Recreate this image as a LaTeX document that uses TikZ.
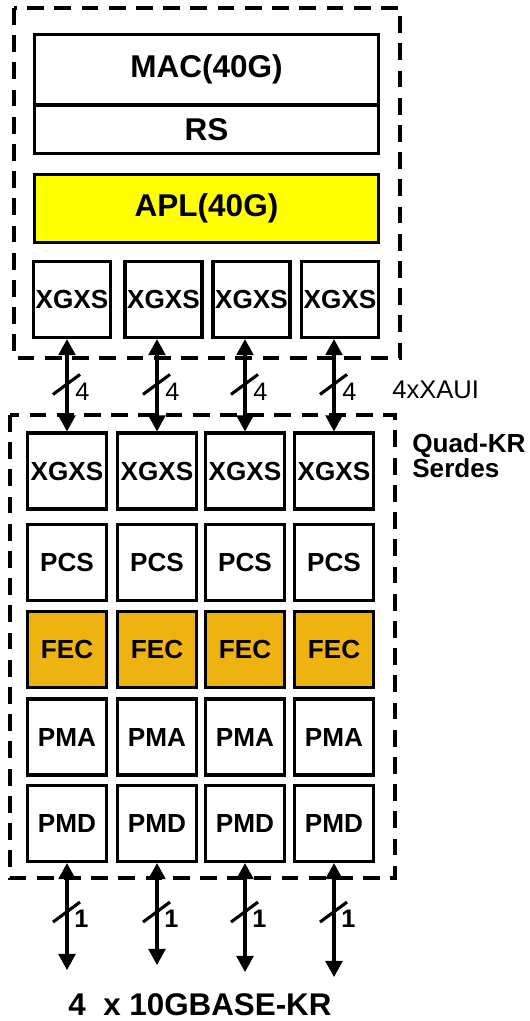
\documentclass[tikz,border=0pt]{standalone}
\usepackage{fontspec}
\setmainfont{Liberation Sans}
\usetikzlibrary{arrows.meta}
\definecolor{aplyellow}{HTML}{FFFF00}
\definecolor{fecgold}{HTML}{EEB211}

\begin{document}
\begin{tikzpicture}[
  x=0.025cm, y=-0.025cm,
  layer/.style={draw, line width=2.2pt, inner sep=0pt, minimum width=8.6cm, font=\fontsize{22.4}{26}\selectfont\bfseries},
  cell/.style={draw, line width=2.2pt, inner sep=0pt, minimum width=1.975cm, minimum height=1.9cm, font=\fontsize{18.6}{22}\selectfont\bfseries},
  grp/.style={draw, line width=2.2pt, dash pattern=on 0.42cm off 0.26cm},
  biarr/.style={{Triangle[width=12pt,length=11.5pt]}-{Triangle[width=12pt,length=11.5pt]}, line width=2.2pt},
  slash/.style={line width=2.2pt},
  num/.style={inner sep=0pt, anchor=base west, font=\fontsize{18}{21}\selectfont}
]
\useasboundingbox (0,0) rectangle (529,1021);
% 40G part
\draw[grp] (14,8) rectangle (400,358);
\node[layer, minimum height=1.76cm] (mac) at (206.5,69.75) {MAC(40G)};
\node[layer, minimum height=1.21cm] (rs) at (206.5,129.25) {RS};
\node[layer, minimum height=1.715cm, fill=aplyellow] (apl) at (206.5,208.5) {APL(40G)};
\foreach \i/\x in {1/72, 2/163.5, 3/251.5, 4/340}
  \node[cell, minimum width=1.925cm] (ux\i) at (\x,299.5) {XGXS};

% Quad-KR serdes
\draw[grp] (10,415) rectangle (395,878);
\node[inner sep=0pt, anchor=north west, align=left, font=\fontsize{18.6}{17}\selectfont\bfseries] (serdes) at (412,433) {Quad-KR\\Serdes};
\node[num, font=\fontsize{18.2}{21}\selectfont] (xaui) at (392,398) {4xXAUI};
\foreach \i/\x in {1/67, 2/157, 3/245, 4/334} {
  \node[cell] (xgxs\i) at (\x,471) {XGXS};
  \node[cell] (pcs\i) at (\x,562.5) {PCS};
  \node[cell, fill=fecgold] (fec\i) at (\x,649.5) {FEC};
  \node[cell] (pma\i) at (\x,737) {PMA};
  \node[cell] (pmd\i) at (\x,823.5) {PMD};
}

% lanes
\foreach \i/\len in {1/107, 2/102, 3/109, 4/114} {
  \draw[biarr] (xgxs\i.north) -- (xgxs\i.north |- ux\i.south);
  \draw[slash] (xgxs\i.north) ++(-14,-37) -- ++(27,-20);
  \path (xgxs\i.north) ++(8,-31) node[num] (w\i) {4};
  \path (pmd\i.south) ++(0,\len) coordinate (kr\i);
  \draw[biarr] (pmd\i.south) -- (kr\i);
  \draw[slash] (pmd\i.south) ++(-14,59) -- ++(27,-20);
  \path (pmd\i.south) ++(7,64) node[num, font=\fontsize{18}{21}\selectfont\bfseries] (l\i) {1};
}
\node[anchor=base, inner sep=0pt, font=\fontsize{22.3}{26}\selectfont\bfseries] (kr) at (200,1015) {4\ \ x 10GBASE-KR};
\end{tikzpicture}
\end{document}
